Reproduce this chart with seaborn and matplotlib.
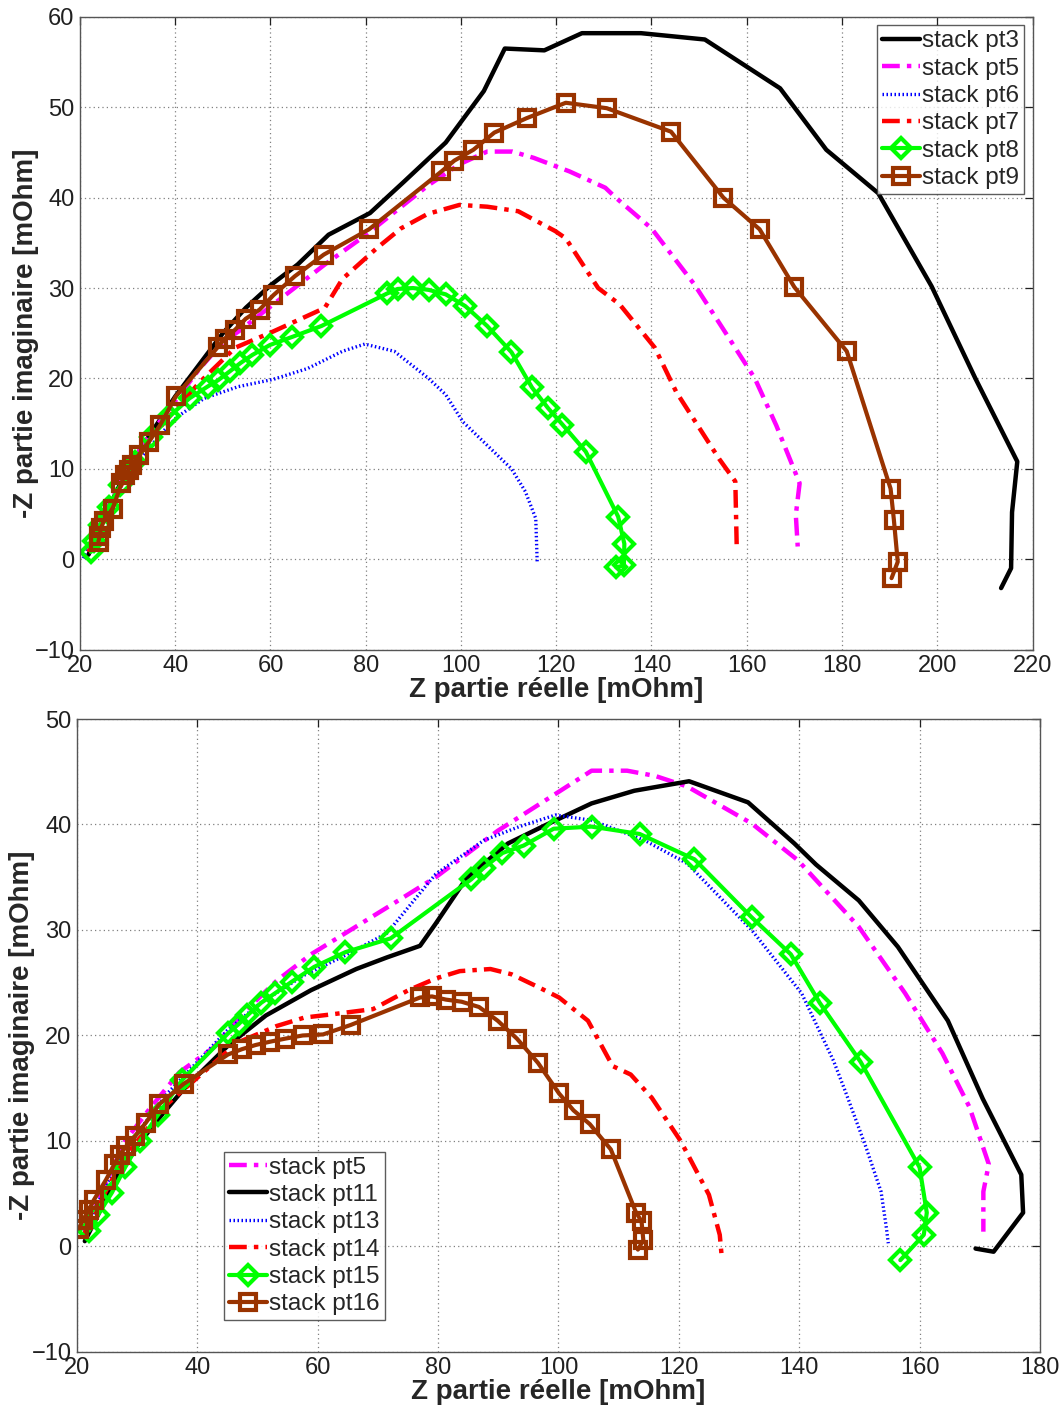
import matplotlib
matplotlib.use("Agg")
import matplotlib.pyplot as plt
import seaborn as sns
import pandas as pd

# ---------------- Top chart data ----------------
pt3_x = [21.8, 23.0, 25.0, 27.5, 30.0, 35.0, 40.0, 45.0, 50.0, 54.8, 60.0, 65.7, 72.2, 80.9, 88.1, 96.8, 104.8,
         109.2, 117.5, 125.4, 131.8, 137.8, 151.2, 167.0, 176.7, 187.6, 198.8, 208.0, 216.8, 215.7, 215.5, 213.4]
pt3_y = [0.5, 2.0, 4.5, 7.3, 10.0, 14.0, 18.0, 21.5, 25.0, 27.8, 30.3, 32.6, 35.9, 38.3, 41.8, 46.1, 51.8,
         56.5, 56.3, 58.2, 58.2, 58.2, 57.5, 52.1, 45.3, 40.5, 30.2, 20.0, 10.8, 5.2, -1.0, -3.2]

pt5_x = [21.8, 23.0, 25.0, 27.5, 30.0, 35.0, 40.0, 45.0, 50.0, 53.3, 60.6, 71.4, 80.1, 87.0, 93.2, 99.7, 105.5,
         110.8, 115.3, 122.8, 130.3, 132.5, 140.0, 149.0, 155.0, 161.7, 166.2, 171.1, 170.3, 170.7]
pt5_y = [1.0, 2.5, 5.0, 7.5, 10.0, 14.0, 17.5, 21.0, 24.0, 25.2, 28.2, 32.6, 35.9, 38.8, 41.4, 43.7, 45.1,
         45.1, 44.4, 42.9, 41.1, 40.0, 36.6, 30.4, 25.5, 20.0, 14.8, 8.4, 4.9, 1.4]

pt6_x = [20.7, 22.5, 25.0, 28.0, 31.0, 34.0, 37.4, 40.3, 46.1, 53.3, 60.6, 67.8, 75.1, 79.8, 86.0, 93.2, 96.8,
         100.4, 105.5, 110.6, 113.5, 115.7, 116.0]
pt6_y = [0.1, 2.0, 4.5, 7.5, 10.0, 12.0, 14.1, 15.7, 17.8, 19.1, 19.9, 21.1, 23.0, 23.8, 23.0, 20.0, 18.2,
         15.2, 12.6, 10.0, 7.5, 4.5, -0.3]

pt7_x = [21.8, 23.0, 25.0, 27.5, 30.0, 35.0, 40.0, 45.0, 52.6, 60.6, 71.4, 75.1, 82.3, 87.4, 93.0, 99.7, 105.5,
         112.0, 119.8, 122.0, 128.8, 133.3, 140.7, 145.2, 149.7, 154.2, 157.6, 157.9]
pt7_y = [0.8, 2.0, 4.5, 7.0, 9.5, 13.5, 16.5, 19.5, 23.4, 25.2, 27.8, 31.0, 34.4, 36.6, 38.2, 39.2, 39.0,
         38.5, 36.3, 35.5, 30.0, 28.2, 23.4, 18.5, 14.8, 11.1, 8.6, 1.2]

pt8_x = [22.3, 23.0, 24.2, 26.0, 28.5, 31.5, 35.0, 38.8, 43.0, 46.8, 49.0, 51.5, 53.7, 56.2, 59.9, 64.6, 70.7,
         84.5, 86.7, 89.9, 93.2, 96.8, 100.9, 105.5, 110.6, 114.9, 118.3, 121.3, 126.2, 133.0, 134.3, 134.2, 132.6]
pt8_y = [0.8, 2.0, 3.8, 5.8, 8.2, 10.8, 13.5, 15.8, 17.8, 19.1, 19.8, 20.8, 21.7, 22.6, 23.7, 24.6, 25.8,
         29.4, 29.9, 30.0, 29.8, 29.3, 28.0, 25.8, 22.9, 19.0, 16.7, 14.9, 11.9, 4.7, 1.7, -0.7, -0.9]

pt9_x = [23.9, 24.1, 24.4, 25.0, 26.9, 28.7, 29.4, 30.2, 30.9, 32.3, 34.5, 36.8, 40.1, 49.0, 50.4, 52.6, 54.8,
         57.7, 60.6, 65.1, 71.2, 80.7, 95.9, 98.6, 102.6, 107.0, 113.8, 122.0, 130.6, 144.1, 155.1, 162.7, 170.0,
         181.0, 190.2, 190.9, 191.7, 190.4]
pt9_y = [1.9, 2.6, 3.4, 4.2, 5.6, 8.4, 9.3, 9.9, 10.4, 11.5, 13.0, 14.8, 18.0, 23.5, 24.4, 25.4, 26.6,
         27.6, 29.2, 31.3, 33.7, 36.5, 42.9, 44.1, 45.3, 47.2, 48.8, 50.5, 49.9, 47.3, 40.0, 36.5, 30.1,
         23.0, 7.8, 4.3, -0.3, -2.1]

# ---------------- Bottom chart data ----------------
b5_x = [21.0, 22.5, 24.0, 26.0, 28.0, 32.0, 37.0, 42.8, 47.4, 53.2, 58.9, 64.6, 72.0, 79.6, 89.9, 99.5, 105.5,
        111.4, 116.1, 121.4, 132.1, 139.8, 149.9, 157.6, 163.8, 168.3, 171.5, 170.6, 170.6]
b5_y = [1.5, 3.0, 5.0, 7.5, 10.0, 13.0, 16.5, 18.9, 22.0, 25.2, 27.7, 29.7, 32.3, 35.0, 39.4, 42.9, 45.1,
        45.1, 44.6, 43.6, 40.1, 36.6, 30.3, 24.0, 18.3, 13.2, 7.8, 5.2, 1.4]

b11_x = [21.3, 23.5, 26.2, 30.0, 33.1, 37.7, 45.2, 51.4, 58.9, 66.4, 71.5, 77.0, 79.6, 84.7, 91.6, 97.7, 105.5,
         112.6, 121.7, 131.5, 139.2, 142.8, 149.9, 156.4, 164.7, 170.5, 176.9, 177.2, 172.3, 169.3]
b11_y = [0.5, 3.0, 6.2, 9.5, 11.8, 14.9, 19.1, 21.9, 24.3, 26.3, 27.4, 28.5, 30.6, 34.9, 38.2, 39.9, 42.0,
         43.2, 44.1, 42.1, 38.2, 36.2, 32.8, 28.4, 21.4, 14.0, 6.8, 3.2, -0.5, -0.2]

b13_x = [21.0, 23.0, 25.0, 28.0, 31.0, 35.0, 40.0, 45.0, 50.3, 57.7, 64.6, 71.5, 79.6, 87.6, 93.5, 99.5, 105.5,
         114.3, 121.4, 132.1, 140.4, 145.7, 147.6, 151.1, 153.6, 154.5, 154.8]
b13_y = [1.0, 3.5, 6.0, 9.0, 11.5, 14.5, 17.5, 20.5, 23.0, 25.7, 27.6, 29.7, 35.3, 38.5, 39.8, 40.9, 40.4,
         38.5, 36.3, 30.0, 24.0, 17.6, 14.8, 9.4, 5.2, 1.7, 0.3]

b14_x = [21.0, 23.0, 25.0, 28.0, 30.0, 35.0, 40.0, 45.0, 47.4, 53.2, 57.8, 62.3, 69.2, 75.1, 79.6, 83.6, 88.7,
         92.2, 96.6, 100.1, 104.9, 109.0, 112.0, 115.5, 120.3, 125.0, 126.8, 127.1]
b14_y = [1.0, 3.0, 5.5, 8.5, 10.0, 13.5, 16.0, 18.5, 19.5, 20.9, 21.7, 22.0, 22.5, 24.3, 25.4, 26.1, 26.3,
         25.8, 24.6, 23.6, 21.4, 17.1, 16.3, 14.1, 10.0, 4.9, 1.1, -0.8]

b15_x = [22.0, 23.5, 25.8, 28.0, 30.5, 33.5, 37.5, 45.1, 46.9, 48.3, 50.6, 52.9, 55.7, 59.4, 64.6, 72.1, 85.5,
         87.6, 90.7, 94.2, 99.2, 105.5, 113.5, 122.6, 132.1, 138.6, 143.4, 150.2, 160.0, 161.2, 160.7, 156.8]
b15_y = [1.5, 3.0, 5.1, 7.5, 10.0, 12.5, 15.8, 20.2, 21.1, 21.9, 23.1, 24.0, 25.1, 26.5, 27.9, 29.2, 34.8,
         35.9, 37.3, 38.0, 39.6, 39.8, 39.1, 36.7, 31.2, 27.7, 23.1, 17.5, 7.5, 3.2, 1.1, -1.3]

b16_x = [20.3, 21.0, 22.0, 22.8, 24.8, 26.2, 27.1, 28.2, 29.7, 31.4, 33.7, 37.7, 45.1, 47.4, 49.7, 52.0, 54.6,
         57.5, 60.9, 65.5, 77.0, 79.0, 81.3, 83.9, 86.8, 89.9, 93.1, 96.6, 100.1, 102.5, 105.2, 108.7, 112.9,
         113.8, 114.1, 113.2]
b16_y = [1.7, 2.5, 3.5, 4.4, 6.3, 7.8, 8.7, 9.5, 10.5, 11.7, 13.5, 15.4, 18.2, 18.7, 19.1, 19.4, 19.7,
         20.0, 20.1, 21.0, 23.6, 23.7, 23.4, 23.2, 22.7, 21.4, 19.7, 17.4, 14.5, 12.9, 11.6, 9.2, 3.2,
         2.4, 0.6, -0.3]

top_labels = ["stack pt3", "stack pt5", "stack pt6", "stack pt7", "stack pt8", "stack pt9"]
bot_labels = ["stack pt5", "stack pt11", "stack pt13", "stack pt14", "stack pt15", "stack pt16"]
xlabel = "Z partie réelle [mOhm]"
ylabel = "-Z partie imaginaire [mOhm]"

sns.set_style("white")
plt.rcParams['font.family'] = ['Liberation Sans', 'DejaVu Sans']

BROWN = "#993300"
DASHDOT = (4, 1.6, 1, 1.6)
styles = {
    "black": dict(color="black", lw=3.2, dashes=None, marker=None),
    "magenta": dict(color="#ff00ff", lw=3.2, dashes=DASHDOT, marker=None),
    "blue": dict(color="#0000ff", lw=2.4, dashes=(0.45, 0.75), marker=None),
    "red": dict(color="#ff0000", lw=3.2, dashes=DASHDOT, marker=None),
    "green": dict(color="#00ff00", lw=3.0, dashes=None, marker="D"),
    "brown": dict(color=BROWN, lw=3.0, dashes=None, marker="s"),
}


def draw(ax, x, y, label, key):
    st = styles[key]
    df = pd.DataFrame({"x": x, "y": y})
    kw = dict(color=st["color"], linewidth=st["lw"], label=label)
    if st["marker"] is not None:
        kw.update(marker=st["marker"], markersize=11 if st["marker"] == "s" else 10,
                  markerfacecolor="none", markeredgecolor=st["color"], markeredgewidth=3.0)
    sns.lineplot(data=df, x="x", y="y", ax=ax, sort=False, estimator=None, **kw)
    line = ax.get_lines()[-1]
    if st["dashes"] is not None:
        line.set_dashes(st["dashes"])


def style_axes(ax, xlim, xticks, ylim, yticks, ylab_x):
    ax.set_xlim(*xlim)
    ax.set_ylim(*ylim)
    ax.set_xticks(xticks)
    ax.set_yticks(yticks)
    ax.grid(True, linestyle=(0, (1, 2.5)), color="#808080", linewidth=0.9)
    ax.tick_params(direction="in", length=6, width=0.9, top=True, right=True,
                   labelsize=17, colors="#202020", pad=4)
    for s in ax.spines.values():
        s.set_color("#555555")
        s.set_linewidth(1.0)
    ax.set_xlabel(xlabel, fontsize=20, fontweight="bold", labelpad=0)
    ax.set_ylabel(ylabel, fontsize=20, fontweight="bold")
    ax.yaxis.set_label_coords(ylab_x, 0.5)


fig = plt.figure(figsize=(10.59, 14.09), dpi=100)
ax1 = fig.add_axes([0.0755, 0.539, 0.8995, 0.449])
ax2 = fig.add_axes([0.0727, 0.0405, 0.9093, 0.4492])

draw(ax1, pt3_x, pt3_y, top_labels[0], "black")
draw(ax1, pt5_x, pt5_y, top_labels[1], "magenta")
draw(ax1, pt6_x, pt6_y, top_labels[2], "blue")
draw(ax1, pt7_x, pt7_y, top_labels[3], "red")
draw(ax1, pt8_x, pt8_y, top_labels[4], "green")
draw(ax1, pt9_x, pt9_y, top_labels[5], "brown")
style_axes(ax1, (20, 220), range(20, 221, 20), (-10, 60), range(-10, 61, 10), -0.043)
leg_kw = dict(fontsize=17.5, frameon=True, fancybox=False, handlelength=1.55,
              handletextpad=0.1, borderpad=0.2, labelspacing=0.22)
leg1 = ax1.legend(loc="upper right", borderaxespad=0.35, **leg_kw)
leg1.get_frame().set_edgecolor("#333333")
leg1.get_frame().set_linewidth(1.0)

draw(ax2, b5_x, b5_y, bot_labels[0], "magenta")
draw(ax2, b11_x, b11_y, bot_labels[1], "black")
draw(ax2, b13_x, b13_y, bot_labels[2], "blue")
draw(ax2, b14_x, b14_y, bot_labels[3], "red")
draw(ax2, b15_x, b15_y, bot_labels[4], "green")
draw(ax2, b16_x, b16_y, bot_labels[5], "brown")
style_axes(ax2, (20, 180), range(20, 181, 20), (-10, 50), range(-10, 51, 10), -0.044)
leg2 = ax2.legend(loc="lower left", bbox_to_anchor=(0.153, 0.05), borderaxespad=0.0, **leg_kw)
leg2.get_frame().set_edgecolor("#333333")
leg2.get_frame().set_linewidth(1.0)

fig.savefig("out.png", dpi=100, facecolor="white")
